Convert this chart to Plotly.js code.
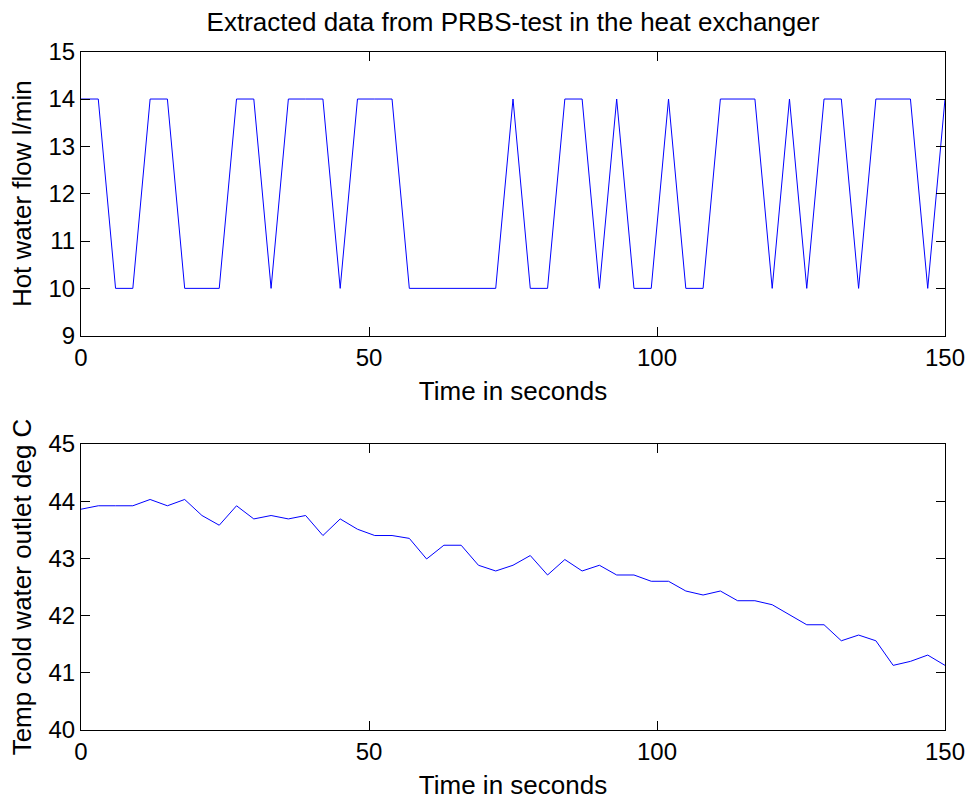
<!DOCTYPE html>
<html>
<head>
<meta charset="utf-8">
<script src="https://cdn.plot.ly/plotly-3.0.1.min.js"></script>
<style>html,body{margin:0;padding:0;background:#fff;}#chart{width:969px;height:800px;}</style>
</head>
<body>
<div id="chart"></div>
<script>
var timeSec = [0,3,6,9,12,15,18,21,24,27,30,33,36,39,42,45,48,51,54,57,60,63,66,69,72,75,78,81,84,87,90,93,96,99,102,105,108,111,114,117,120,123,126,129,132,135,138,141,144,147,150];
var hotFlow = [14,14,10,10,14,14,10,10,10,14,14,10,14,14,14,10,14,14,14,10,10,10,10,10,10,14,10,10,14,14,10,14,10,10,14,10,10,14,14,14,10,14,10,14,14,10,14,14,14,10,14];
var coldTemp = [43.86,43.92,43.92,43.92,44.03,43.92,44.03,43.75,43.58,43.92,43.69,43.75,43.69,43.75,43.40,43.69,43.51,43.40,43.40,43.35,42.99,43.23,43.23,42.88,42.78,42.88,43.05,42.71,42.98,42.78,42.88,42.71,42.71,42.60,42.60,42.43,42.36,42.43,42.26,42.26,42.19,42.01,41.84,41.84,41.56,41.66,41.56,41.13,41.20,41.31,41.13];
var xTicks = [0,50,100,150];
var yTicksTop = [9,10,11,12,13,14,15];
var yTicksBottom = [40,41,42,43,44,45];

var FONT = 'Liberation Sans, Arial, sans-serif';
var H = 800;
var TFONT = {family: FONT, size: 26, color: '#000'};
function axisBase() {
  return {
    showline: true, linecolor: '#000', linewidth: 1, mirror: 'ticks',
    ticks: 'inside', ticklen: 9, tickcolor: '#000', tickwidth: 1,
    showgrid: false, zeroline: false,
    tickfont: {family: FONT, size: 24, color: '#000'}
  };
}
var xa1 = Object.assign(axisBase(), {domain: [0,1], range: [0,150], tickvals: xTicks, anchor: 'y',
  title: {text: 'Time in seconds', font: TFONT, standoff: 12}});
var xa2 = Object.assign(axisBase(), {domain: [0,1], range: [0,150], tickvals: xTicks, anchor: 'y2',
  title: {text: 'Time in seconds', font: TFONT, standoff: 12}});
var ya1 = Object.assign(axisBase(), {domain: [1-335.7/H, 1-51.7/H], range: [9,15], tickvals: yTicksTop, anchor: 'x',
  title: {text: 'Hot water flow l/min', font: TFONT, standoff: 9}});
var ya2 = Object.assign(axisBase(), {domain: [1-730/H, 1-444/H], range: [40,45], tickvals: yTicksBottom, anchor: 'x2',
  title: {text: 'Temp cold water outlet deg C', font: TFONT, standoff: 9}});

var data = [
  {x: timeSec, y: hotFlow, xaxis: 'x', yaxis: 'y', type: 'scatter', mode: 'lines', line: {color: '#0000ff', width: 1}},
  {x: timeSec, y: coldTemp, xaxis: 'x2', yaxis: 'y2', type: 'scatter', mode: 'lines', line: {color: '#0000ff', width: 1}}
];
var layout = {
  width: 969, height: 800,
  margin: {l: 81, r: 24, t: 0, b: 0},
  paper_bgcolor: '#fff', plot_bgcolor: '#fff',
  showlegend: false,
  title: {text: 'Extracted data from PRBS-test in the heat exchanger', font: TFONT,
    x: 0.5, xref: 'paper', y: 1-22/H, yref: 'container', yanchor: 'middle'},
  xaxis: xa1, yaxis: ya1, xaxis2: xa2, yaxis2: ya2
};
Plotly.newPlot('chart', data, layout, {displayModeBar: false, staticPlot: true});
</script>
</body>
</html>
